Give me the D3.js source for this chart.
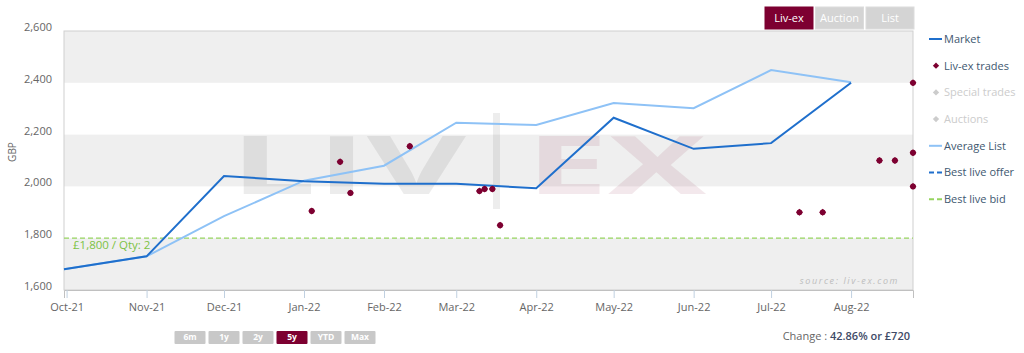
<!DOCTYPE html>
<html>
<head>
<meta charset="utf-8">
<script src="https://cdn.jsdelivr.net/npm/d3@7"></script>
<style>
  body { margin: 0; background: #fff; }
  text { font-family: "Open Sans", sans-serif; }
</style>
</head>
<body>
<div id="chart"></div>
<script>
// data
const monthDates = ["2021-09-30", "2021-11-01", "2021-12-01", "2022-01-01", "2022-02-01", "2022-03-01",
  "2022-04-01", "2022-05-01", "2022-06-01", "2022-07-01", "2022-08-01"];
const marketValues = [1680, 1730, 2040, 2020, 2010, 2010, 1993, 2265, 2145, 2167, 2400];
const listValues = [1680, 1730, 1885, 2022, 2080, 2246, 2237, 2322, 2302, 2449, 2402];
const tradeDates = ["2022-01-04", "2022-01-15", "2022-01-19", "2022-02-11", "2022-03-10", "2022-03-12",
  "2022-03-15", "2022-03-18", "2022-07-12", "2022-07-21", "2022-08-12", "2022-08-18",
  "2022-08-25", "2022-08-25", "2022-08-25"];
const tradeValues = [1905, 2095, 1975, 2155, 1982, 1990, 1990, 1850, 1900, 1900, 2100, 2100, 2400, 2130, 2000];
const yTicks = [1600, 1800, 2000, 2200, 2400, 2600];
const xTicks = ["2021-10-01", "2021-11-01", "2021-12-01", "2022-01-01", "2022-02-01", "2022-03-01",
  "2022-04-01", "2022-05-01", "2022-06-01", "2022-07-01", "2022-08-01"];
const bestBid = 1800;
const bidLabel = "£1,800 / Qty: 2";
const legendNames = ["Market", "Liv-ex trades", "Special trades", "Auctions", "Average List", "Best live offer", "Best live bid"];
const rangeButtons = ["6m", "1y", "2y", "5y", "YTD", "Max"];
const sourceButtons = ["Liv-ex", "Auction", "List"];

const width = 1024, height = 353;
const marginTop = 31, marginLeft = 64, plotRight = 913, plotBottom = 290;
const marketColor = "#1f6fcc", listColor = "#8ec2f6", tradeColor = "#7d0031", bidColor = "#96d45f";
const legendColor = "#3e576f", axisText = "#666";

const parse = d3.timeParse("%Y-%m-%d");

const xScale = d3.scaleTime([parse("2021-09-30"), parse("2022-08-25")], [marginLeft, plotRight]);
const yScale = d3.scaleLinear([1600, 2600], [plotBottom, marginTop]);

const svg = d3.select("#chart").append("svg")
  .attr("width", width)
  .attr("height", height)
  .attr("viewBox", [0, 0, width, height]);

// alternating bands
svg.append("g")
  .selectAll("rect")
  .data(d3.range(0, yTicks.length - 1, 2))
  .join("rect")
  .attr("x", marginLeft)
  .attr("y", (i) => yScale(yTicks[i + 1]))
  .attr("width", plotRight - marginLeft)
  .attr("height", (i) => yScale(yTicks[i]) - yScale(yTicks[i + 1]))
  .attr("fill", "#efefef");

// watermark
const plotMid = (marginLeft + plotRight) / 2;
svg.append("text")
  .attr("x", 230).attr("y", 194)
  .attr("font-family", "DejaVu Serif").attr("font-weight", 700)
  .attr("font-size", 80)
  .attr("textLength", 236).attr("lengthAdjust", "spacingAndGlyphs")
  .attr("fill", "#000").attr("fill-opacity", 0.075)
  .text("LIV");
svg.append("rect")
  .attr("x", 493).attr("y", 113).attr("width", 7).attr("height", 96)
  .attr("fill", "#000").attr("fill-opacity", 0.07);
svg.append("text")
  .attr("x", 526).attr("y", 194)
  .attr("font-family", "DejaVu Sans").attr("font-weight", 700)
  .attr("font-size", 80)
  .attr("textLength", 180).attr("lengthAdjust", "spacingAndGlyphs")
  .attr("fill", tradeColor).attr("fill-opacity", 0.09)
  .text("EX");

svg.append("text")
  .attr("x", 899).attr("y", 284)
  .attr("text-anchor", "end")
  .attr("font-size", 9).attr("font-style", "italic")
  .attr("letter-spacing", 1.6)
  .attr("fill", "#bdbdbd")
  .text("source: liv-ex.com");

// plot border
svg.append("rect")
  .attr("x", marginLeft).attr("y", marginTop)
  .attr("width", plotRight - marginLeft).attr("height", plotBottom - marginTop)
  .attr("fill", "none").attr("stroke", "#cfcfcf");

// y axis
svg.append("g")
  .attr("transform", `translate(${marginLeft},0)`)
  .call(d3.axisLeft(yScale).tickValues(yTicks).tickFormat(d3.format(",")).tickSize(0).tickPadding(12))
  .call((g) => g.select(".domain").remove())
  .call((g) => g.selectAll(".tick text")
    .attr("font-size", 11).attr("fill", axisText)
    .attr("font-family", "Open Sans").attr("dy", "-0.05em"));

svg.append("text")
  .attr("transform", "translate(16,152) rotate(-90)")
  .attr("text-anchor", "middle")
  .attr("font-size", 10).attr("fill", axisText)
  .text("GBP");

// x axis
svg.append("g")
  .attr("transform", `translate(0,${plotBottom})`)
  .call(d3.axisBottom(xScale).tickValues(xTicks.map(parse)).tickFormat(d3.timeFormat("%b-%y")).tickSize(8).tickPadding(5))
  .call((g) => g.select(".domain").attr("stroke", "#c0c0c0"))
  .call((g) => g.selectAll(".tick line").attr("stroke", "#c0d0e0"))
  .call((g) => g.selectAll(".tick text")
    .attr("font-size", 11).attr("fill", axisText).attr("font-family", "Open Sans"));

// best live bid
svg.append("line")
  .attr("x1", marginLeft).attr("x2", plotRight)
  .attr("y1", yScale(bestBid)).attr("y2", yScale(bestBid))
  .attr("stroke", bidColor).attr("stroke-width", 1.2)
  .attr("stroke-dasharray", "5,3");
svg.append("text")
  .attr("x", marginLeft + 9).attr("y", yScale(bestBid) + 11)
  .attr("font-size", 11.5).attr("fill", "#7cc243")
  .text(bidLabel);

// lines
const line = (vals) => d3.line()
  .x((d, i) => xScale(parse(monthDates[i])))
  .y((d) => yScale(d))(vals);

svg.append("path")
  .attr("d", line(listValues))
  .attr("fill", "none").attr("stroke", listColor).attr("stroke-width", 2);
svg.append("path")
  .attr("d", line(marketValues))
  .attr("fill", "none").attr("stroke", marketColor).attr("stroke-width", 2);

// trades
const marker = (g) => {
  g.append("circle").attr("r", 2.9).attr("fill", tradeColor);
  g.append("path").attr("d", d3.symbol(d3.symbolSquare, 24)()).attr("transform", "rotate(45)").attr("fill", tradeColor);
};
svg.append("g")
  .selectAll("g")
  .data(d3.range(tradeDates.length))
  .join("g")
  .attr("transform", (i) => `translate(${xScale(parse(tradeDates[i]))},${yScale(tradeValues[i])})`)
  .each(function () { d3.select(this).call(marker); });

// legend
const legend = svg.append("g")
  .selectAll("g")
  .data(legendNames)
  .join("g")
  .attr("transform", (d, i) => `translate(929,${39 + i * 26.7})`);
legend.append("text")
  .attr("x", 15).attr("dy", "0.35em")
  .attr("font-size", 11)
  .attr("fill", (d) => (d === "Special trades" || d === "Auctions") ? "#cccccc" : legendColor)
  .text((d) => d);
legend.each(function (d) {
  const g = d3.select(this);
  if (d === "Market" || d === "Average List") {
    g.append("line").attr("x1", 0).attr("x2", 13).attr("stroke", d === "Market" ? marketColor : listColor).attr("stroke-width", 2);
  } else if (d === "Best live offer" || d === "Best live bid") {
    g.append("line").attr("x1", 0).attr("x2", 13).attr("stroke", d === "Best live offer" ? marketColor : bidColor)
      .attr("stroke-width", 2).attr("stroke-dasharray", "5,3");
  } else {
    const c = d === "Liv-ex trades" ? tradeColor : "#cccccc";
    g.append("path").attr("transform", "translate(7,0) rotate(45)")
      .attr("d", d3.symbol(d3.symbolSquare, 20)()).attr("fill", c);
  }
});

// source buttons
const topBtn = svg.append("g")
  .selectAll("g")
  .data(sourceButtons)
  .join("g")
  .attr("transform", (d, i) => `translate(${765 + i * 50.5},7)`);
topBtn.append("rect")
  .attr("width", 48).attr("height", 22)
  .attr("fill", (d, i) => i === 0 ? "#7d0031" : "#d4d4d4")
  .attr("stroke", (d, i) => i === 0 ? "#7d0031" : "#dcdcdc");
topBtn.append("text")
  .attr("x", 24).attr("y", 11).attr("dy", "0.35em")
  .attr("text-anchor", "middle").attr("font-size", 11).attr("fill", "#fff")
  .text((d) => d);

// range buttons
const rngBtn = svg.append("g")
  .selectAll("g")
  .data(rangeButtons)
  .join("g")
  .attr("transform", (d, i) => `translate(${174.5 + i * 34},331)`);
rngBtn.append("rect")
  .attr("width", 31).attr("height", 13).attr("rx", 1)
  .attr("fill", (d) => d === "5y" ? "#7d0031" : "#c8c8c8");
rngBtn.append("text")
  .attr("x", 15.5).attr("y", 6.5).attr("dy", "0.35em")
  .attr("text-anchor", "middle").attr("font-size", 8.5).attr("font-weight", 700).attr("fill", "#fff")
  .text((d) => d);

// change summary
const change = svg.append("text")
  .attr("x", 910).attr("y", 336).attr("dy", "0.35em")
  .attr("text-anchor", "end").attr("font-size", 11);
change.append("tspan").attr("fill", axisText).text("Change : ");
change.append("tspan").attr("fill", "#3e4a66").attr("font-weight", 600).text("42.86% or £720");
</script>
</body>
</html>
